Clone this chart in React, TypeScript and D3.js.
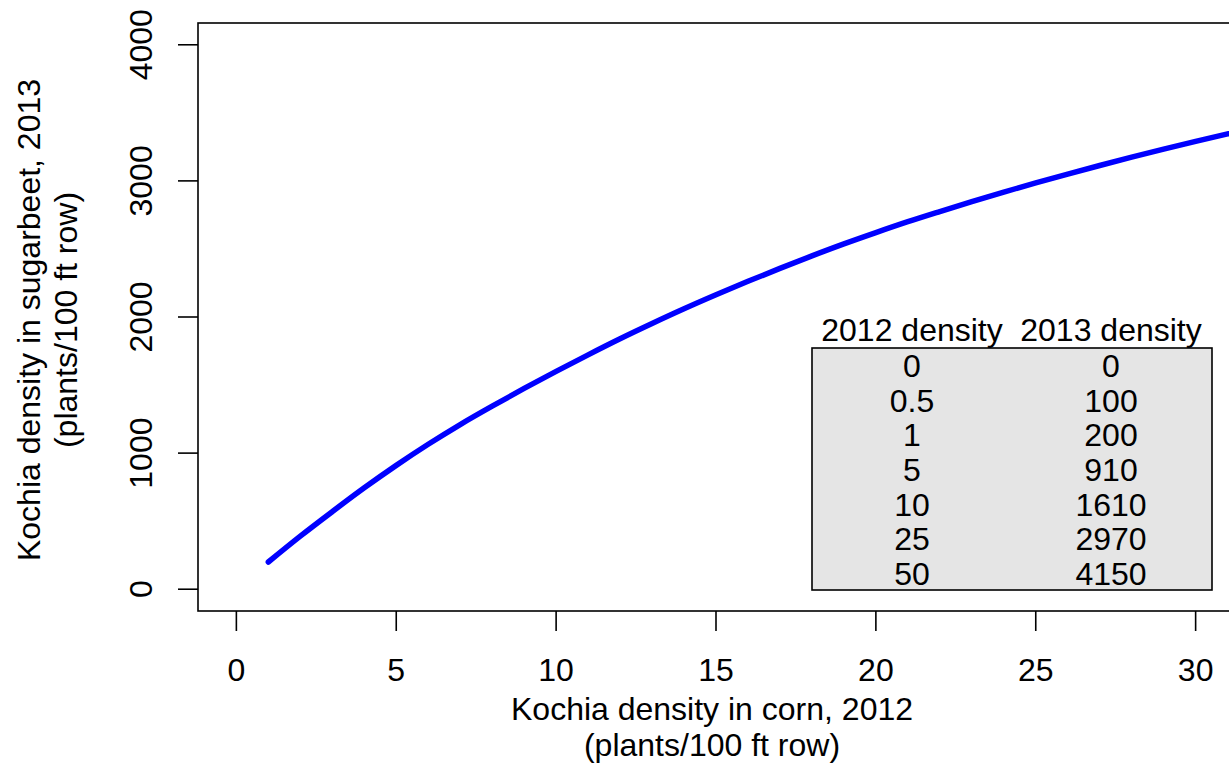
import React from "react";
import * as d3 from "d3";

// Curve values (2012 density -> predicted 2013 density)
const curveX = [1, 2, 3, 4, 5, 6, 7, 8, 9, 10, 11, 12, 13, 14, 15, 16, 17, 18, 19, 20, 21, 22, 23, 24, 25, 26, 27, 28, 29, 30, 31, 32];
const curveY = [200, 390, 570, 745, 910, 1065, 1210, 1345, 1475, 1600, 1722, 1840, 1952, 2060, 2163, 2262, 2357, 2449, 2537, 2620, 2700, 2775, 2848, 2918, 2985, 3050, 3113, 3174, 3233, 3290, 3345, 3398];

// Inset table
const tableHeaders = ["2012 density", "2013 density"];
const density2012 = ["0", "0.5", "1", "5", "10", "25", "50"];
const density2013 = ["0", "100", "200", "910", "1610", "2970", "4150"];

const xTicks = [0, 5, 10, 15, 20, 25, 30];
const yTicks = [0, 1000, 2000, 3000, 4000];
const xDomain = [0, 30];
const yDomain = [0, 4000];

const xTitle = ["Kochia density in corn, 2012", "(plants/100 ft row)"];
const yTitle = ["Kochia density in sugarbeet, 2013", "(plants/100 ft row)"];

const W = 1229;
const H = 767;
const FONT = "'Liberation Sans', Arial, Helvetica, sans-serif";
const FS = 32;

export default function App() {
  // R-style 4% axis expansion
  const xPad = (xDomain[1] - xDomain[0]) * 0.04;
  const yPad = (yDomain[1] - yDomain[0]) * 0.04;
  const left = 198, right = 1234, top = 23, bottom = 611;
  const x = d3.scaleLinear().domain([xDomain[0] - xPad, xDomain[1] + xPad]).range([left, right]);
  const y = d3.scaleLinear().domain([yDomain[0] - yPad, yDomain[1] + yPad]).range([bottom, top]);

  const pts: [number, number][] = curveX.map((v, i) => [v, curveY[i]]);
  const line = d3.line<[number, number]>()
    .x(d => x(d[0]))
    .y(d => y(d[1]))
    .curve(d3.curveMonotoneX);

  // table layout
  const tLeft = 812, tRight = 1212, tTop = 348, tBottom = 590;
  const col1 = 912, col2 = 1111;
  const rowH = (tBottom - tTop) / density2012.length;

  return (
    <svg width={W} height={H} style={{ position: "absolute", left: 0, top: 0, background: "#fff" }}
      fontFamily={FONT} fontSize={FS}>
      <defs>
        <clipPath id="plotclip">
          <rect x={left} y={top} width={right - left} height={bottom - top} />
        </clipPath>
      </defs>
      <rect x={0} y={0} width={W} height={H} fill="#fff" />

      {/* curve */}
      <path d={line(pts) || ""} fill="none" stroke="#0000ff" strokeWidth={5.5}
        strokeLinecap="round" strokeLinejoin="round" clipPath="url(#plotclip)" />

      {/* table */}
      <rect x={tLeft} y={tTop} width={tRight - tLeft} height={tBottom - tTop}
        fill="#e5e5e5" stroke="#000" strokeWidth={1.6} />
      <text x={col1} y={330} textAnchor="middle" dominantBaseline="central">{tableHeaders[0]}</text>
      <text x={col2} y={330} textAnchor="middle" dominantBaseline="central">{tableHeaders[1]}</text>
      {density2012.map((d, i) => (
        <g key={i}>
          <text x={col1} y={tTop + rowH * (i + 0.5) + 1} textAnchor="middle" dominantBaseline="central">{d}</text>
          <text x={col2} y={tTop + rowH * (i + 0.5) + 1} textAnchor="middle" dominantBaseline="central">{density2013[i]}</text>
        </g>
      ))}

      {/* box */}
      <rect x={left} y={top} width={right - left} height={bottom - top} fill="none" stroke="#000" strokeWidth={1.6} />

      {/* x axis ticks */}
      {xTicks.map(t => (
        <g key={t}>
          <line x1={x(t)} x2={x(t)} y1={bottom} y2={bottom + 20} stroke="#000" strokeWidth={1.6} />
          <text x={x(t)} y={670} textAnchor="middle" dominantBaseline="central">{t}</text>
        </g>
      ))}

      {/* y axis ticks */}
      {yTicks.map(t => (
        <g key={t}>
          <line x1={left - 20} x2={left} y1={y(t)} y2={y(t)} stroke="#000" strokeWidth={1.6} />
          <text transform={`translate(141,${y(t)}) rotate(-90)`} textAnchor="middle" dominantBaseline="central">{t}</text>
        </g>
      ))}

      {/* axis titles */}
      <text x={(left + right) / 2 - 4} y={709} textAnchor="middle" dominantBaseline="central">{xTitle[0]}</text>
      <text x={(left + right) / 2 - 4} y={745} textAnchor="middle" dominantBaseline="central">{xTitle[1]}</text>
      <text transform={`translate(29,${(top + bottom) / 2 + 3}) rotate(-90)`} textAnchor="middle" dominantBaseline="central">{yTitle[0]}</text>
      <text transform={`translate(66,${(top + bottom) / 2 + 3}) rotate(-90)`} textAnchor="middle" dominantBaseline="central">{yTitle[1]}</text>
    </svg>
  );
}
